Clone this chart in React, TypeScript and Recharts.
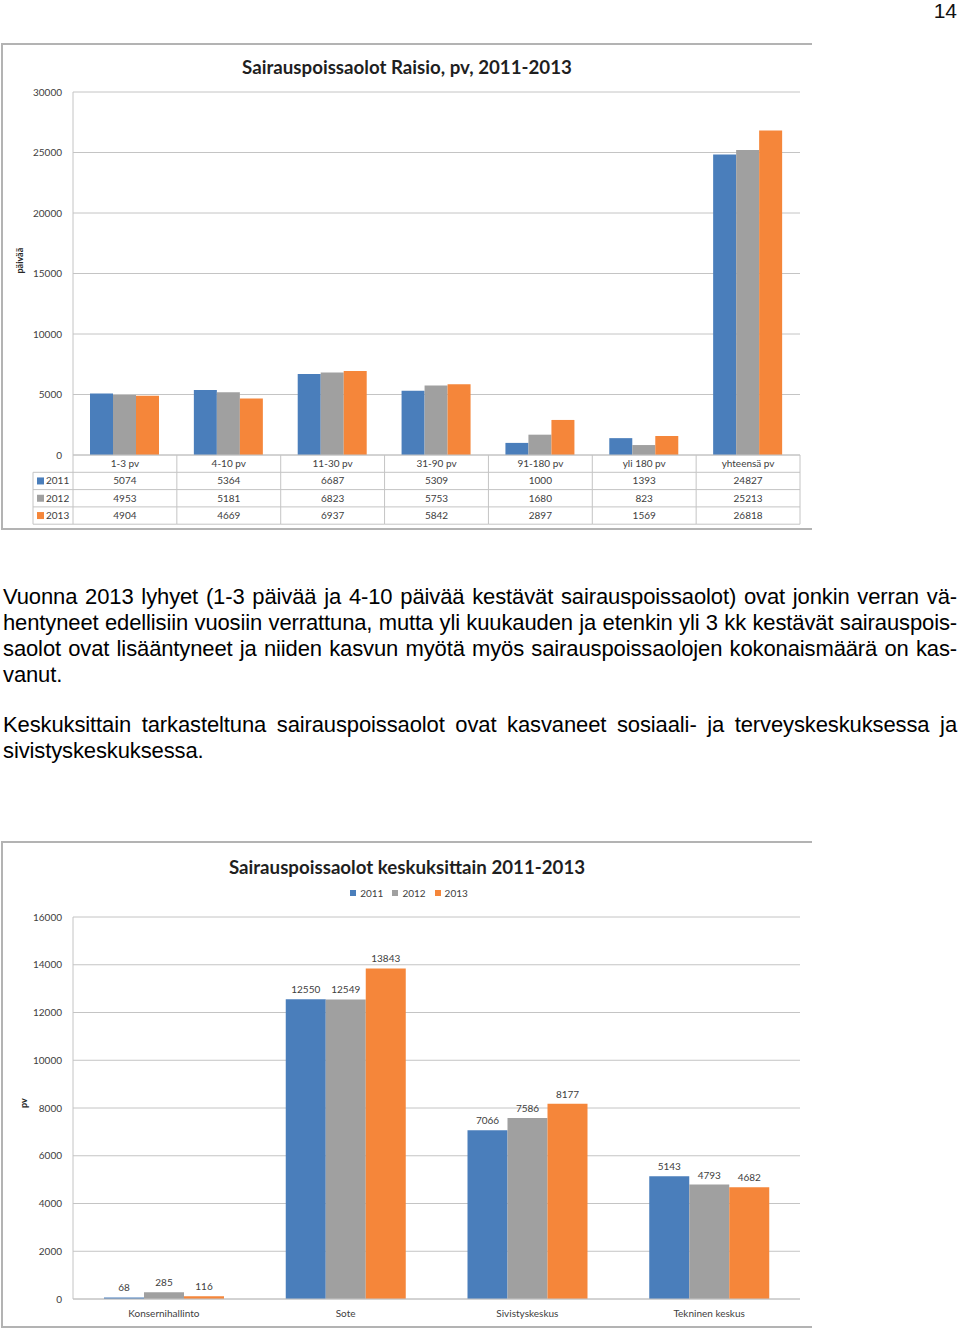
import React from "react"
import { BarChart, Bar, XAxis, YAxis, CartesianGrid, Legend, LabelList } from "recharts"

// kaavio 1: kestoluokat
const durationCats = ["1-3 pv", "4-10 pv", "11-30 pv", "31-90 pv", "91-180 pv", "yli 180 pv", "yhteensä pv"]
const days2011 = [5074, 5364, 6687, 5309, 1000, 1393, 24827]
const days2012 = [4953, 5181, 6823, 5753, 1680, 823, 25213]
const days2013 = [4904, 4669, 6937, 5842, 2897, 1569, 26818]
const ticks1 = [0, 5000, 10000, 15000, 20000, 25000, 30000]

// kaavio 2: keskukset
const centreCats = ["Konsernihallinto", "Sote", "Sivistyskeskus", "Tekninen keskus"]
const centre2011 = [68, 12550, 7066, 5143]
const centre2012 = [285, 12549, 7586, 4793]
const centre2013 = [116, 13843, 8177, 4682]
const ticks2 = [0, 2000, 4000, 6000, 8000, 10000, 12000, 14000, 16000]

const years = ["2011", "2012", "2013"]
const BLUE = "#4A7EBB"
const GREY = "#A0A0A0"
const ORANGE = "#F5863A"
const colors = [BLUE, GREY, ORANGE]

const data1 = durationCats.map((name, i) => ({ name, y2011: days2011[i], y2012: days2012[i], y2013: days2013[i] }))
const data2 = centreCats.map((name, i) => ({ name, y2011: centre2011[i], y2012: centre2012[i], y2013: centre2013[i] }))
const rows1 = [days2011, days2012, days2013]

const CHART_FONT = "Lato, 'Open Sans', sans-serif"
const TEXT_FONT = "'Liberation Sans', Arial, sans-serif"
const W = 810
const H = 486
const BAND1 = 727 / durationCats.length
const ROW = 17.3
const TABLE_TOP = 411
const LINE = "#c4c4c4"

function TableTick(props: any) {
  const { x, payload, index } = props
  const l = x - BAND1 / 2
  const r = x + BAND1 / 2
  const top = TABLE_TOP
  return (
    <g fontFamily={CHART_FONT} fontSize={10} fill="#404040">
      <line x1={r} y1={top} x2={r} y2={top + 4 * ROW} stroke={LINE} />
      {index === 0 && <line x1={l} y1={top} x2={l} y2={top + 4 * ROW} stroke={LINE} />}
      {[1, 2, 3, 4].map((k) => (
        <line key={k} x1={l} y1={top + k * ROW} x2={r} y2={top + k * ROW} stroke={LINE} />
      ))}
      <text x={x} y={top + ROW * 0.5} dy="0.35em" textAnchor="middle">{payload.value}</text>
      {rows1.map((row, k) => (
        <text key={k} x={x} y={top + ROW * (k + 1.5)} dy="0.35em" textAnchor="middle">{row[index]}</text>
      ))}
      {index === 0 && (
        <g>
          <line x1={l - 40} y1={top + ROW} x2={l - 40} y2={top + 4 * ROW} stroke={LINE} />
          {[1, 2, 3, 4].map((k) => (
            <line key={k} x1={l - 40} y1={top + k * ROW} x2={l} y2={top + k * ROW} stroke={LINE} />
          ))}
          {years.map((yr, k) => (
            <g key={yr}>
              <rect x={l - 36} y={top + ROW * (k + 1.5) - 3.5} width={7} height={7} fill={colors[k]} />
              <text x={l - 27} y={top + ROW * (k + 1.5)} dy="0.35em">{yr}</text>
            </g>
          ))}
        </g>
      )}
    </g>
  )
}

function YearLegend() {
  return (
    <div style={{ display: "flex", justifyContent: "center", fontFamily: CHART_FONT, fontSize: 10, color: "#404040", lineHeight: "14px" }}>
      {years.map((yr, k) => (
        <span key={yr} style={{ display: "inline-flex", alignItems: "center", marginRight: k < 2 ? 9 : 0 }}>
          <span style={{ display: "inline-block", width: 6, height: 6, background: colors[k], marginRight: 4 }} />
          {yr}
        </span>
      ))}
    </div>
  )
}

const tickStyle = { fontSize: 10, fill: "#404040", fontFamily: CHART_FONT }
const boxStyle = (top: number): React.CSSProperties => ({
  position: "absolute",
  left: 1,
  top: top - 1,
  width: W + 1,
  height: H + 1,
  borderLeft: "2px solid #b3b3b3",
  borderTop: "2px solid #b3b3b3",
  borderBottom: "2px solid #b3b3b3",
  boxSizing: "border-box",
})
const titleStyle = (top: number): React.CSSProperties => ({
  position: "absolute",
  left: 2,
  top,
  width: W,
  textAlign: "center",
  fontFamily: CHART_FONT,
  fontWeight: 700,
  fontSize: 18.7,
  color: "#1f1f1f",
  lineHeight: "22px",
})
const just: React.CSSProperties = { whiteSpace: "nowrap", textAlign: "justify", textAlignLast: "justify" }
const para: React.CSSProperties = {
  position: "absolute",
  left: 3,
  width: 954,
  fontFamily: TEXT_FONT,
  fontSize: 22,
  letterSpacing: -0.12,
  lineHeight: "26px",
  color: "#000",
}

export default function App() {
  return (
    <div style={{ position: "absolute", left: 0, top: 0, width: 960, height: 1330, background: "#fff", overflow: "hidden" }}>
      <div style={{ position: "absolute", right: 3, top: 0, fontFamily: TEXT_FONT, fontSize: 21, lineHeight: "21px", color: "#111" }}>14</div>

      <div style={boxStyle(44)} />
      <div style={{ position: "absolute", left: 2, top: 44 }}>
        <BarChart width={W} height={H} data={data1} margin={{ top: 48, right: 12, left: 0, bottom: 0 }} barGap={0}>
          <CartesianGrid vertical={false} stroke={LINE} />
          <XAxis dataKey="name" height={75} interval={0} tickLine={false} axisLine={{ stroke: LINE }} tick={<TableTick />} />
          <YAxis
            width={71}
            domain={[0, 30000]}
            ticks={ticks1}
            tickLine={false}
            tickSize={6}
            tickMargin={5}
            axisLine={{ stroke: LINE }}
            tick={tickStyle}
            label={{ value: "päivää", angle: -90, position: "insideLeft", offset: 18, style: { fontSize: 9, fontWeight: 700, fill: "#262626", fontFamily: CHART_FONT } }}
          />
          <Bar dataKey="y2011" fill={BLUE} barSize={23} isAnimationActive={false} />
          <Bar dataKey="y2012" fill={GREY} barSize={23} isAnimationActive={false} />
          <Bar dataKey="y2013" fill={ORANGE} barSize={23} isAnimationActive={false} />
        </BarChart>
      </div>
      <div style={titleStyle(56)}>Sairauspoissaolot Raisio, pv, 2011-2013</div>

      <div style={{ ...para, top: 584 }}>
        <div style={just}>Vuonna 2013 lyhyet (1-3 päivää ja 4-10 päivää kestävät sairauspoissaolot) ovat jonkin verran vä-</div>
        <div style={just}>hentyneet edellisiin vuosiin verrattuna, mutta yli kuukauden ja etenkin yli 3 kk kestävät sairauspois-</div>
        <div style={just}>saolot ovat lisääntyneet ja niiden kasvun myötä myös sairauspoissaolojen kokonaismäärä on kas-</div>
        <div>vanut.</div>
      </div>
      <div style={{ ...para, top: 712 }}>
        <div style={just}>Keskuksittain tarkasteltuna sairauspoissaolot ovat kasvaneet sosiaali- ja terveyskeskuksessa ja</div>
        <div>sivistyskeskuksessa.</div>
      </div>

      <div style={boxStyle(842)} />
      <div style={{ position: "absolute", left: 2, top: 842 }}>
        <BarChart width={W} height={H} data={data2} margin={{ top: 75, right: 12, left: 0, bottom: 0 }} barGap={0}>
          <CartesianGrid vertical={false} stroke={LINE} />
          <XAxis dataKey="name" height={29} interval={0} tickLine={false} tickSize={6} tickMargin={5} axisLine={{ stroke: LINE }} tick={tickStyle} />
          <YAxis
            width={71}
            domain={[0, 16000]}
            ticks={ticks2}
            tickLine={false}
            tickSize={6}
            tickMargin={5}
            axisLine={{ stroke: LINE }}
            tick={tickStyle}
            label={{ value: "pv", angle: -90, position: "insideLeft", offset: 22, style: { fontSize: 9, fontWeight: 700, fill: "#262626", fontFamily: CHART_FONT } }}
          />
          <Legend
            verticalAlign="middle"
            layout="horizontal"
            align="center"
            wrapperStyle={{ top: 44, left: 8 }}
            content={<YearLegend />}
          />
          <Bar dataKey="y2011" name="2011" fill={BLUE} barSize={40} isAnimationActive={false}>
            <LabelList dataKey="y2011" position="top" offset={6} style={tickStyle} />
          </Bar>
          <Bar dataKey="y2012" name="2012" fill={GREY} barSize={40} isAnimationActive={false}>
            <LabelList dataKey="y2012" position="top" offset={6} style={tickStyle} />
          </Bar>
          <Bar dataKey="y2013" name="2013" fill={ORANGE} barSize={40} isAnimationActive={false}>
            <LabelList dataKey="y2013" position="top" offset={6} style={tickStyle} />
          </Bar>
        </BarChart>
      </div>
      <div style={titleStyle(856)}>Sairauspoissaolot keskuksittain 2011-2013</div>
    </div>
  )
}
